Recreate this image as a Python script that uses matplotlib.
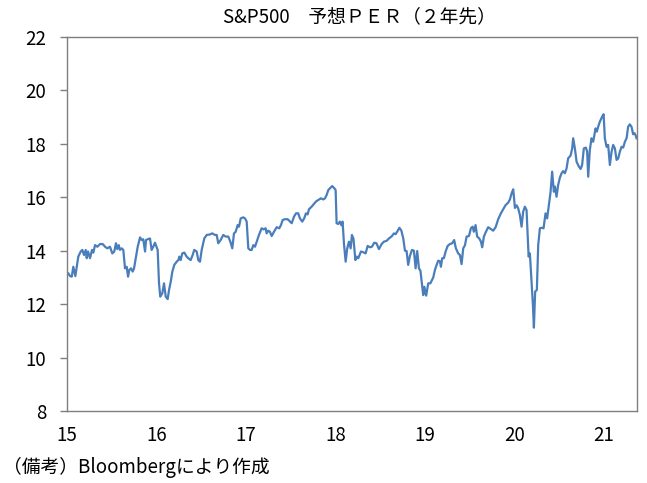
import numpy as np
import matplotlib
matplotlib.use('Agg')
import matplotlib.pyplot as plt

plt.rcParams['font.family'] = ['Noto Sans CJK JP', 'DejaVu Sans']

# time as fractional year, 2-year forward PER
years = [
    2015.015, 2015.034, 2015.053, 2015.070, 2015.093, 2015.126, 2015.153, 2015.171,
    2015.190, 2015.209, 2015.220, 2015.235, 2015.257, 2015.279, 2015.294, 2015.313,
    2015.339, 2015.369, 2015.399, 2015.425, 2015.450, 2015.480, 2015.506, 2015.528,
    2015.547, 2015.562, 2015.578, 2015.592, 2015.611, 2015.629, 2015.648, 2015.667,
    2015.682, 2015.696, 2015.715, 2015.734, 2015.749, 2015.771, 2015.790, 2015.816,
    2015.835, 2015.852, 2015.872, 2015.883, 2015.902, 2015.927, 2015.946, 2015.964,
    2015.983, 2016.013, 2016.028, 2016.042, 2016.065, 2016.084, 2016.103, 2016.125,
    2016.140, 2016.159, 2016.177, 2016.199, 2016.226, 2016.244, 2016.255, 2016.270,
    2016.288, 2016.311, 2016.337, 2016.355, 2016.382, 2016.404, 2016.422, 2016.449,
    2016.467, 2016.486, 2016.505, 2016.534, 2016.561, 2016.598, 2016.623, 2016.654,
    2016.673, 2016.690, 2016.717, 2016.746, 2016.773, 2016.802, 2016.825, 2016.847,
    2016.866, 2016.885, 2016.907, 2016.922, 2016.941, 2016.970, 2016.989, 2017.008,
    2017.026, 2017.045, 2017.064, 2017.082, 2017.101, 2017.120, 2017.145, 2017.175,
    2017.198, 2017.220, 2017.231, 2017.249, 2017.268, 2017.287, 2017.313, 2017.343,
    2017.372, 2017.391, 2017.410, 2017.436, 2017.466, 2017.484, 2017.511, 2017.536,
    2017.559, 2017.584, 2017.603, 2017.629, 2017.651, 2017.670, 2017.689, 2017.704,
    2017.734, 2017.760, 2017.782, 2017.808, 2017.838, 2017.864, 2017.883, 2017.902,
    2017.920, 2017.939, 2017.964, 2017.987, 2018.002, 2018.013, 2018.031, 2018.050,
    2018.067, 2018.080, 2018.095, 2018.114, 2018.132, 2018.151, 2018.170, 2018.184,
    2018.201, 2018.223, 2018.240, 2018.255, 2018.285, 2018.307, 2018.337, 2018.360,
    2018.385, 2018.408, 2018.433, 2018.458, 2018.486, 2018.516, 2018.542, 2018.572,
    2018.598, 2018.626, 2018.654, 2018.673, 2018.693, 2018.715, 2018.737, 2018.758,
    2018.777, 2018.795, 2018.813, 2018.832, 2018.855, 2018.877, 2018.896, 2018.914,
    2018.933, 2018.950, 2018.970, 2018.981, 2018.994, 2019.014, 2019.037, 2019.061,
    2019.093, 2019.112, 2019.131, 2019.149, 2019.168, 2019.179, 2019.193, 2019.212,
    2019.231, 2019.254, 2019.279, 2019.305, 2019.327, 2019.346, 2019.372, 2019.391,
    2019.410, 2019.428, 2019.447, 2019.466, 2019.492, 2019.514, 2019.533, 2019.547,
    2019.566, 2019.584, 2019.607, 2019.626, 2019.640, 2019.659, 2019.682, 2019.707,
    2019.734, 2019.763, 2019.790, 2019.819, 2019.849, 2019.875, 2019.902, 2019.931,
    2019.950, 2019.969, 2019.987, 2020.006, 2020.025, 2020.042, 2020.061, 2020.080,
    2020.098, 2020.117, 2020.136, 2020.147, 2020.159, 2020.173, 2020.192, 2020.207,
    2020.218, 2020.232, 2020.251, 2020.266, 2020.285, 2020.304, 2020.326, 2020.348,
    2020.366, 2020.385, 2020.404, 2020.422, 2020.441, 2020.453, 2020.471, 2020.489,
    2020.508, 2020.527, 2020.545, 2020.564, 2020.583, 2020.601, 2020.628, 2020.646,
    2020.657, 2020.676, 2020.695, 2020.721, 2020.740, 2020.757, 2020.776, 2020.799,
    2020.813, 2020.825, 2020.843, 2020.862, 2020.880, 2020.891, 2020.907, 2020.922,
    2020.936, 2020.955, 2020.981, 2020.997, 2021.011, 2021.030, 2021.048, 2021.067,
    2021.086, 2021.104, 2021.123, 2021.142, 2021.160, 2021.179, 2021.198, 2021.216,
    2021.235, 2021.254, 2021.271, 2021.290, 2021.309, 2021.327, 2021.341, 2021.354,
    2021.365,
]
per = [
    13.15, 13.05, 13.03, 13.40, 13.05, 13.78, 13.97, 14.03,
    13.84, 14.03, 13.72, 13.97, 13.72, 14.03, 13.93, 14.21,
    14.15, 14.25, 14.25, 14.15, 14.09, 14.15, 13.90, 13.97,
    14.28, 14.06, 14.21, 14.03, 14.09, 14.03, 13.34, 13.40,
    13.03, 13.28, 13.34, 13.22, 13.34, 13.78, 14.15, 14.50,
    14.40, 14.43, 13.97, 14.40, 14.43, 14.46, 14.03, 14.15,
    14.30, 14.03, 12.78, 12.28, 12.41, 12.78, 12.28, 12.19,
    12.53, 12.84, 13.22, 13.47, 13.59, 13.65, 13.78, 13.65,
    13.90, 13.93, 13.78, 13.72, 13.65, 13.84, 14.03, 13.97,
    13.65, 13.59, 14.03, 14.46, 14.59, 14.61, 14.65, 14.59,
    14.59, 14.28, 14.40, 14.59, 14.53, 14.53, 14.34, 14.09,
    14.65, 14.71, 14.96, 14.90, 15.21, 15.25, 15.21, 15.09,
    14.09, 14.03, 14.03, 14.21, 14.15, 14.34, 14.59, 14.84,
    14.80, 14.84, 14.65, 14.75, 14.71, 14.55, 14.71, 14.88,
    14.84, 14.96, 15.15, 15.18, 15.18, 15.12, 15.03, 15.27,
    15.40, 15.40, 15.21, 15.09, 15.21, 15.40, 15.36, 15.55,
    15.65, 15.75, 15.84, 15.90, 15.96, 15.92, 15.96, 16.09,
    16.27, 16.34, 16.42, 16.34, 16.27, 15.03, 15.00, 15.09,
    14.95, 15.09, 14.28, 13.59, 14.09, 14.34, 14.09, 14.59,
    14.46, 13.65, 13.78, 13.72, 13.97, 13.95, 13.90, 14.18,
    14.13, 14.15, 14.30, 14.28, 14.06, 14.25, 14.34, 14.37,
    14.46, 14.53, 14.65, 14.62, 14.73, 14.86, 14.75, 14.46,
    14.00, 13.99, 13.47, 13.80, 14.03, 14.00, 13.34, 13.99,
    13.34, 13.25, 12.65, 12.34, 12.65, 12.32, 12.78, 12.78,
    13.00, 13.28, 13.47, 13.63, 13.60, 13.40, 13.72, 13.72,
    13.97, 14.18, 14.25, 14.28, 14.40, 14.09, 13.90, 13.84,
    13.50, 14.09, 14.20, 14.53, 14.55, 14.84, 14.90, 14.71,
    14.96, 14.53, 14.46, 14.34, 14.13, 14.53, 14.71, 14.88,
    14.82, 14.75, 14.88, 15.18, 15.40, 15.55, 15.71, 15.80,
    15.92, 16.15, 16.30, 15.60, 15.70, 15.59, 15.34, 14.90,
    15.46, 15.65, 15.52, 14.71, 13.78, 13.90, 12.84, 11.97,
    11.12, 12.47, 12.53, 14.21, 14.84, 14.86, 14.84, 15.40,
    15.21, 15.71, 16.19, 16.96, 16.21, 16.40, 16.02, 16.46,
    16.73, 16.90, 16.98, 16.90, 17.08, 17.46, 17.56, 17.83,
    18.21, 17.83, 17.33, 17.15, 17.06, 17.21, 17.83, 17.86,
    17.71, 16.77, 17.77, 18.21, 18.08, 18.27, 18.58, 18.46,
    18.64, 18.83, 19.02, 19.11, 18.21, 17.89, 17.96, 17.21,
    17.71, 17.96, 17.83, 17.40, 17.45, 17.71, 17.89, 17.86,
    18.08, 18.21, 18.64, 18.73, 18.64, 18.36, 18.40, 18.33,
    18.21,
]

year_ticks = [2015, 2016, 2017, 2018, 2019, 2020, 2021]
year_labels = ['15', '16', '17', '18', '19', '20', '21']


def run():
    fig = plt.figure(figsize=(6.47, 4.83), dpi=100)
    ax = fig.add_axes([0.1036, 0.149, 0.8809, 0.7744])

    ax.plot(years, per, color='#4a7ebb', lw=1.6)

    ax.set_xlim(2015, 2021.37)
    ax.set_ylim(8, 22)
    ax.set_yticks(np.arange(8, 23, 2))
    ax.set_xticks(year_ticks)
    ax.set_xticklabels(year_labels)

    for s in ax.spines.values():
        s.set_color('#7f7f7f')
        s.set_linewidth(1.0)

    ax.tick_params(axis='y', length=5, width=1, color='#7f7f7f',
                   labelsize=13.5, pad=10)
    ax.tick_params(axis='x', length=0, labelsize=13.5, pad=10)

    fig.text(0.555, 0.965, 'S&P500　予想ＰＥＲ（２年先）', ha='center',
             va='center', fontsize=13.5)
    fig.text(0.005, 0.033, '（備考）Bloombergにより作成', ha='left',
             va='center', fontsize=13.5)

    fig.savefig('out.png', dpi=100)


if __name__ == '__main__':
    run()
